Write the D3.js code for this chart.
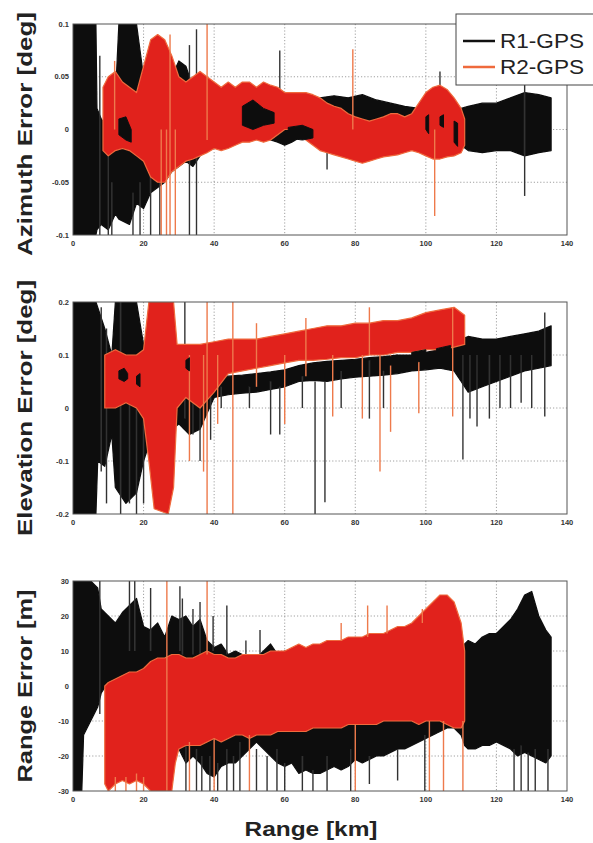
<!DOCTYPE html>
<html>
<head>
<meta charset="utf-8">
<script src="https://cdn.jsdelivr.net/npm/d3@7"></script>
<style>
  body { margin: 0; background: #fff; }
  svg { display: block; font-family: "Liberation Sans", Arial, sans-serif; }
  .tick-label { font-size: 7.5px; font-weight: bold; fill: #333; }
  .grid line { stroke: #888; stroke-width: 0.8; stroke-dasharray: 1.2 2; }
  .ylab, .xlab { font-weight: bold; fill: #222; }
</style>
</head>
<body>
<svg id="chart" width="593" height="843"></svg>
<script>
'use strict';

// x ticks shared by the three panels (km)
const xTicks = [0, 20, 40, 60, 80, 100, 120, 140];

// ---- Azimuth error [deg], envelopes [km, low, high] ----
const azR1 = [
  [0, -0.1, 0.1], [6.5, -0.1, 0.1], [6.8, -0.095, 0.02], [8, -0.09, 0.01], [10, -0.095, 0.0],
  [12, -0.08, 0.03], [13, -0.085, 0.1], [16, -0.09, 0.1], [18, -0.07, 0.1], [20, -0.075, 0.05],
  [22, -0.06, 0.03], [24, -0.055, 0.02], [26, -0.05, 0.03], [28, -0.04, 0.05], [30, -0.035, 0.065],
  [32, -0.03, 0.06], [34, -0.035, 0.04], [36, -0.025, 0.03], [38, -0.02, 0.025], [40, -0.018, 0.02],
  [42, -0.015, 0.015], [44, -0.012, 0.02], [46, -0.01, 0.025], [48, -0.005, 0.03], [50, -0.002, 0.028],
  [52, 0.0, 0.02], [54, -0.005, 0.015], [56, -0.01, 0.012], [58, -0.012, 0.01], [60, -0.015, 0.012],
  [62, -0.012, 0.01], [64, -0.008, 0.012], [66, -0.005, 0.02], [68, 0.0, 0.025], [70, 0.002, 0.03],
  [74, 0.005, 0.032], [78, 0.008, 0.03], [82, 0.005, 0.033], [86, 0.002, 0.028], [90, 0.0, 0.025],
  [94, -0.005, 0.022], [98, -0.008, 0.02], [102, -0.01, 0.02], [106, -0.012, 0.018], [110, -0.015, 0.02],
  [112, -0.02, 0.022], [116, -0.022, 0.025], [120, -0.02, 0.025], [124, -0.02, 0.03], [128, -0.025, 0.035],
  [132, -0.022, 0.033], [135.5, -0.02, 0.03]
];
const azR2 = [
  [8.5, -0.02, 0.04], [10, -0.025, 0.05], [12, -0.02, 0.055], [14, -0.018, 0.045], [16, -0.02, 0.04],
  [18, -0.025, 0.035], [20, -0.03, 0.06], [22, -0.045, 0.085], [24, -0.05, 0.09], [26, -0.05, 0.085],
  [28, -0.04, 0.07], [30, -0.035, 0.05], [32, -0.03, 0.045], [34, -0.028, 0.05], [36, -0.025, 0.055],
  [38, -0.022, 0.05], [40, -0.018, 0.045], [42, -0.02, 0.04], [44, -0.018, 0.045], [46, -0.015, 0.04],
  [48, -0.012, 0.045], [50, -0.012, 0.045], [52, -0.01, 0.04], [54, -0.012, 0.045], [56, -0.01, 0.042],
  [58, -0.005, 0.04], [60, 0.0, 0.035], [62, 0.0, 0.035], [64, -0.005, 0.035], [66, -0.01, 0.035],
  [68, -0.015, 0.033], [70, -0.02, 0.03], [72, -0.022, 0.025], [74, -0.024, 0.022], [76, -0.026, 0.02],
  [78, -0.028, 0.015], [80, -0.03, 0.012], [82, -0.032, 0.01], [84, -0.03, 0.008], [86, -0.028, 0.01],
  [88, -0.026, 0.012], [90, -0.025, 0.015], [92, -0.024, 0.015], [94, -0.022, 0.012], [96, -0.02, 0.015],
  [98, -0.022, 0.025], [100, -0.025, 0.035], [102, -0.028, 0.04], [104, -0.028, 0.042], [106, -0.026, 0.038],
  [108, -0.025, 0.03], [110, -0.022, 0.02], [111, -0.015, 0.01]
];
// parts of R1 that show through R2 (null = gap)
const azR1Over = [
  [13, -0.005, 0.01], [15, -0.01, 0.012], [16.5, -0.012, 0.0], null,
  [48, 0.004, 0.022], [51, 0.0, 0.028], [54, 0.004, 0.02], [57, 0.006, 0.016], null,
  [61, -0.008, 0.002], [65, -0.01, 0.004], [68, -0.008, 0.0], null,
  [100, 0.0, 0.012], [100.8, -0.004, 0.014], null, [104, 0.004, 0.012], [105, 0.002, 0.014], null,
  [108, -0.012, 0.008], [109, -0.016, 0.006]
];
// isolated spikes [km, from, to]
const azR1Spikes = [
  [7.6, -0.1, 0.07], [10, -0.1, 0.0], [11, -0.1, -0.05], [17, -0.1, -0.06], [19, -0.1, -0.05],
  [22, -0.1, -0.04], [24.6, -0.1, 0.0], [33, -0.1, 0.08], [35, -0.1, 0.095], [58.6, 0.0, 0.075],
  [72, -0.038, 0.02], [104, 0.0, 0.055], [128, -0.063, 0.043]
];
const azR2Spikes = [
  [11.8, 0.0, 0.065], [25, -0.1, 0.0], [26.5, -0.1, 0.0], [27.5, -0.1, 0.09], [29, -0.1, 0.0],
  [38, -0.01, 0.1], [79.3, 0.0, 0.076], [102.5, -0.082, 0.0]
];

// ---- Elevation error [deg] ----
const elR1 = [
  [0, -0.2, 0.2], [6.5, -0.2, 0.2], [7, -0.1, 0.19], [9, -0.11, 0.15], [11, -0.05, 0.1],
  [12, -0.15, 0.2], [15, -0.18, 0.2], [18, -0.16, 0.2], [20, -0.1, 0.12], [22, -0.06, 0.08],
  [26, -0.05, 0.08], [28, -0.04, 0.09], [30, -0.03, 0.1], [33, -0.05, 0.09], [36, -0.04, 0.08],
  [38, -0.01, 0.07], [40, 0.02, 0.06], [44, 0.025, 0.06], [48, 0.028, 0.062], [52, 0.03, 0.065],
  [56, 0.035, 0.068], [60, 0.04, 0.072], [64, 0.05, 0.08], [68, 0.052, 0.085], [72, 0.05, 0.088],
  [76, 0.055, 0.09], [80, 0.058, 0.092], [84, 0.06, 0.095], [88, 0.062, 0.097], [92, 0.065, 0.1],
  [96, 0.07, 0.1], [100, 0.072, 0.105], [104, 0.075, 0.11], [108, 0.07, 0.12], [110, 0.05, 0.13],
  [112, 0.03, 0.135], [116, 0.04, 0.13], [120, 0.05, 0.13], [124, 0.06, 0.135], [128, 0.07, 0.14],
  [132, 0.075, 0.145], [135.5, 0.08, 0.155]
];
const elR2 = [
  [9, 0.0, 0.1], [12, 0.0, 0.11], [15, 0.01, 0.1], [18, 0.0, 0.1], [20, -0.02, 0.11],
  [21.5, -0.1, 0.2], [23, -0.19, 0.2], [27, -0.2, 0.2], [28.5, -0.15, 0.2], [29.5, 0.0, 0.12],
  [32, 0.02, 0.12], [36, 0.0, 0.12], [40, 0.03, 0.125], [44, 0.065, 0.13], [48, 0.07, 0.13],
  [52, 0.075, 0.13], [56, 0.08, 0.135], [60, 0.085, 0.14], [64, 0.09, 0.145], [68, 0.09, 0.15],
  [72, 0.092, 0.155], [76, 0.095, 0.155], [80, 0.095, 0.16], [84, 0.1, 0.16], [88, 0.1, 0.165],
  [92, 0.105, 0.165], [96, 0.105, 0.17], [100, 0.11, 0.18], [104, 0.11, 0.185], [108, 0.115, 0.19],
  [111, 0.12, 0.175]
];
const elR1Over = [
  [13, 0.055, 0.07], [14.5, 0.05, 0.075], [15.5, 0.055, 0.065], null,
  [18, 0.045, 0.06], [19, 0.04, 0.065], null,
  [32, 0.075, 0.09], [33, 0.07, 0.095], null,
  [88, 0.08, 0.095], [92, 0.082, 0.1], null, [96, 0.085, 0.105], [100, 0.09, 0.11], null,
  [103, 0.088, 0.112], [107, 0.09, 0.118]
];
const elR1Spikes = [
  [8, -0.12, 0.19], [9.5, -0.18, 0.15], [13.5, -0.2, 0.2], [16, -0.18, 0.1], [18, -0.2, 0.1],
  [20, -0.18, 0.05], [31.7, -0.02, 0.2], [34, -0.05, 0.05], [36, -0.1, 0.03], [39, -0.06, 0.04],
  [42, 0.0, 0.04], [50, 0.0, 0.04], [56, -0.05, 0.05], [58.6, -0.05, 0.04], [65, 0.0, 0.06],
  [68.6, -0.2, 0.05], [71.4, -0.178, 0.05], [76, 0.0, 0.07], [84, -0.02, 0.09], [88, 0.0, 0.07],
  [110.5, -0.097, 0.1], [112.5, -0.02, 0.1], [114.5, -0.035, 0.1], [118, -0.02, 0.1], [121, 0.0, 0.1],
  [124, 0.0, 0.1], [127, 0.01, 0.1], [130, 0.0, 0.1], [133.7, -0.016, 0.18]
];
const elR2Spikes = [
  [33, -0.1, 0.1], [37, -0.12, 0.1], [38, -0.2, 0.2], [41, -0.03, 0.1], [45.3, -0.2, 0.2],
  [52, 0.04, 0.16], [60, -0.03, 0.1], [66, 0.06, 0.17], [73.6, -0.016, 0.1], [82, -0.02, 0.1],
  [84, 0.1, 0.19], [87, -0.12, 0.1], [90, -0.045, 0.1], [98, -0.01, 0.1], [107.6, -0.016, 0.19]
];

// ---- Range error [m] ----
const rgR1 = [
  [0, -30, 30], [2.5, -30, 30], [3, -14, 30], [5, -10, 30], [7, -6, 28], [8, -2, 22], [10, 1, 20],
  [12, 2, 18], [14, 3, 21], [16, 3, 23], [18, 2, 25], [20, 4, 17], [22, 5, 16], [24, 5, 18],
  [26, 4, 14], [28, 0, 20], [30, -18, 19], [32, -22, 20], [34, -20, 17], [36, -22, 19], [38, -25, 13],
  [40, -26, 11], [42, -23, 12], [44, -22, 9], [46, -22, 10], [48, -20, 9], [50, -18, 9], [52, -16, 8],
  [54, -18, 10], [56, -20, 12], [58, -22, 9], [60, -23, 10], [62, -22, 10], [64, -25, 11], [66, -24, 10],
  [68, -25, 11], [70, -25, 11], [72, -24, 11], [74, -23, 10], [76, -24, 10], [78, -23, 11], [80, -21, 11],
  [82, -22, 10], [84, -21, 11], [86, -20, 11], [88, -20, 11], [90, -19, 11], [92, -18, 11], [94, -18, 12],
  [96, -17, 12], [98, -16, 12], [100, -15, 12], [102, -14, 12], [104, -13, 13], [106, -12, 13],
  [108, -12, 13], [110, -14, 12], [111, -17, 12], [112, -18, 13], [114, -18, 12], [116, -17, 14],
  [118, -17, 15], [120, -16, 15], [122, -17, 17], [124, -18, 19], [126, -20, 22], [128, -19, 26],
  [130, -20, 27], [132, -21, 20], [134, -22, 16], [135.5, -20, 14]
];
const rgR2 = [
  [9, -28, 0], [10, -30, 1], [12, -28, 2], [14, -27, 3], [16, -28, 4], [18, -27, 4], [20, -28, 5],
  [22, -30, 7], [24, -30, 8], [26, -30, 8], [28, -30, 9], [29, -22, 9], [30, -18, 9], [32, -17, 8],
  [34, -17, 8], [36, -17, 9], [38, -16, 10], [40, -15, 9], [42, -16, 9], [44, -15, 8], [46, -14, 8],
  [48, -14, 9], [50, -15, 9], [52, -14, 9], [54, -14, 9], [56, -14, 10], [58, -13, 10], [60, -13, 10],
  [62, -13, 11], [64, -13, 12], [66, -13, 11], [68, -12, 12], [70, -12, 12], [72, -12, 13], [74, -12, 13],
  [76, -12, 13], [78, -11, 14], [80, -11, 14], [82, -11, 14], [84, -11, 15], [86, -11, 15], [88, -10, 15],
  [90, -10, 16], [92, -10, 17], [94, -10, 17], [96, -10, 18], [98, -11, 20], [100, -10, 22],
  [102, -10, 24], [104, -10, 26], [106, -11, 26], [108, -12, 24], [110, -12, 18], [111, -10, 10]
];
const rgR1Over = [];
const rgR1Spikes = [
  [7.6, -8, 30], [16, 10, 30], [17.5, 10, 30], [22, 10, 28], [30.3, 10, 28.5], [31, 9, 25],
  [32, -30, -16], [34, 9, 22], [35, -30, -18], [36, 9, 24], [36.5, -30, -20], [38.8, -30, -20],
  [39.7, 10, 20], [41, -30, -22], [43.6, -30, -18], [43.6, 9, 23], [45.5, -30, -20], [47.3, -30, -16],
  [49, 8, 13], [52, -30, -18], [53, 8, 16], [55, -30, -20], [57.8, -30, -18], [60, -30, -22],
  [65, -30, -20], [68, -30, -24], [72, -30, -20], [78.7, -30, -18], [84, -28, -20], [92, -27, -18],
  [99.7, -30, -14], [125, -30, -18], [127, -30, -17], [129, -30, -19], [131, -30, -18], [134.6, -30, -18]
];
const rgR2Spikes = [
  [12, -30, -26], [15, -30, -26], [18, -30, -25], [20, -30, -26], [26.6, -30, 30], [33, -30, -16],
  [38, 9, 30], [40, -30, -15], [50, -30, -14], [76, 13, 18], [80, -30, -11], [83.5, 14, 23],
  [89, 15, 23], [99, 18, 22], [101, -30, -10], [105, -30, -10], [110.5, -30, -10]
];

// legend
const seriesNames = ['R1-GPS', 'R2-GPS'];
const seriesColors = ['#111111', '#e1201f'];
const seriesEdge = ['#111111', '#ef6a3c'];

const panels = [
  { label: 'Azimuth Error [deg]', top: 24, bottom: 235, domain: [-0.1, 0.1], labLen: 244, labY: 134,
    ticks: [-0.1, -0.05, 0, 0.05, 0.1], r1: azR1, r2: azR2, over: azR1Over, s1: azR1Spikes, s2: azR2Spikes },
  { label: 'Elevation Error [deg]', top: 302, bottom: 514, domain: [-0.2, 0.2], labLen: 256, labY: 408,
    ticks: [-0.2, -0.1, 0, 0.1, 0.2], r1: elR1, r2: elR2, over: elR1Over, s1: elR1Spikes, s2: elR2Spikes },
  { label: 'Range Error [m]', top: 581, bottom: 791, domain: [-30, 30], labLen: 193, labY: 686,
    ticks: [-30, -20, -10, 0, 10, 20, 30], r1: rgR1, r2: rgR2, over: rgR1Over, s1: rgR1Spikes, s2: rgR2Spikes }
];

const left = 73;
const right = 567;

const svg = d3.select('#chart');

const defs = svg.append('defs');
defs.append('filter').attr('id', 'soft')
  .append('feGaussianBlur').attr('stdDeviation', 0.5);

const xScale = d3.scaleLinear().domain([0, 140]).range([left, right]);

function drawPanel(p, i) {
  const yScale = d3.scaleLinear().domain(p.domain).range([p.bottom, p.top]);
  const g = svg.append('g').attr('class', 'panel');

  defs.append('clipPath').attr('id', 'clip' + i)
    .append('rect')
    .attr('x', left).attr('y', p.top)
    .attr('width', right - left).attr('height', p.bottom - p.top);

  // grid
  const grid = g.append('g').attr('class', 'grid');
  grid.selectAll('.gx').data(xTicks.slice(1, -1)).enter()
    .append('line')
    .attr('x1', d => xScale(d)).attr('x2', d => xScale(d))
    .attr('y1', p.top).attr('y2', p.bottom);
  grid.selectAll('.gy').data(p.ticks.slice(1, -1)).enter()
    .append('line')
    .attr('x1', left).attr('x2', right)
    .attr('y1', d => yScale(d)).attr('y2', d => yScale(d));

  const area = d3.area()
    .defined(d => d !== null)
    .x(d => xScale(d[0]))
    .y0(d => yScale(d[1]))
    .y1(d => yScale(d[2]));

  const marks = g.append('g')
    .attr('clip-path', `url(#clip${i})`)
    .append('g')
    .attr('filter', 'url(#soft)');

  [[p.r1, p.s1, 0], [p.r2, p.s2, 1]].forEach(([env, spikes, k]) => {
    marks.append('path')
      .datum(env)
      .attr('d', area)
      .attr('fill', seriesColors[k])
      .attr('stroke', seriesEdge[k])
      .attr('stroke-width', 1.2)
      .attr('stroke-linejoin', 'round');
    marks.selectAll('.spk' + k)
      .data(spikes).enter()
      .append('line')
      .attr('x1', d => xScale(d[0])).attr('x2', d => xScale(d[0]))
      .attr('y1', d => yScale(d[1])).attr('y2', d => yScale(d[2]))
      .attr('stroke', k === 0 ? '#333' : '#ee7a4c')
      .attr('stroke-width', 1.4);
  });

  if (p.over.length) {
    marks.append('path')
      .datum(p.over)
      .attr('d', area)
      .attr('fill', seriesColors[0])
      .attr('stroke', seriesColors[0])
      .attr('stroke-width', 1);
  }

  // frame
  g.append('rect')
    .attr('x', left).attr('y', p.top)
    .attr('width', right - left).attr('height', p.bottom - p.top)
    .attr('fill', 'none').attr('stroke', '#555').attr('stroke-width', 1);

  // ticks
  g.selectAll('.xt').data(xTicks).enter()
    .append('text').attr('class', 'tick-label')
    .attr('x', d => xScale(d)).attr('y', p.bottom + 11)
    .attr('text-anchor', 'middle')
    .text(d => d);
  g.selectAll('.yt').data(p.ticks).enter()
    .append('text').attr('class', 'tick-label')
    .attr('x', left - 4).attr('y', d => yScale(d) + 2.5)
    .attr('text-anchor', 'end')
    .text(d => d);

  // y label
  g.append('text').attr('class', 'ylab')
    .attr('transform', `translate(32,${p.labY}) rotate(-90)`)
    .attr('text-anchor', 'middle')
    .attr('textLength', p.labLen)
    .attr('lengthAdjust', 'spacingAndGlyphs')
    .style('font-size', '21px')
    .text(p.label);
}

panels.forEach(drawPanel);

svg.append('text').attr('class', 'xlab')
  .attr('x', 311).attr('y', 836)
  .attr('text-anchor', 'middle')
  .attr('textLength', 133)
  .attr('lengthAdjust', 'spacingAndGlyphs')
  .style('font-size', '20px')
  .text('Range [km]');

// legend
const lg = svg.append('g');
lg.append('rect')
  .attr('x', 456).attr('y', 14).attr('width', 150).attr('height', 71)
  .attr('fill', '#fff').attr('stroke', '#444').attr('stroke-width', 1);
seriesNames.forEach((name, k) => {
  const y = 41 + k * 26;
  lg.append('line')
    .attr('x1', 463).attr('x2', 495).attr('y1', y).attr('y2', y)
    .attr('stroke', seriesEdge[k]).attr('stroke-width', 2.5);
  lg.append('text')
    .attr('x', 500).attr('y', y + 7)
    .attr('textLength', 84)
    .attr('lengthAdjust', 'spacingAndGlyphs')
    .style('font-size', '21px').style('fill', '#222')
    .text(name);
});
</script>
</body>
</html>
